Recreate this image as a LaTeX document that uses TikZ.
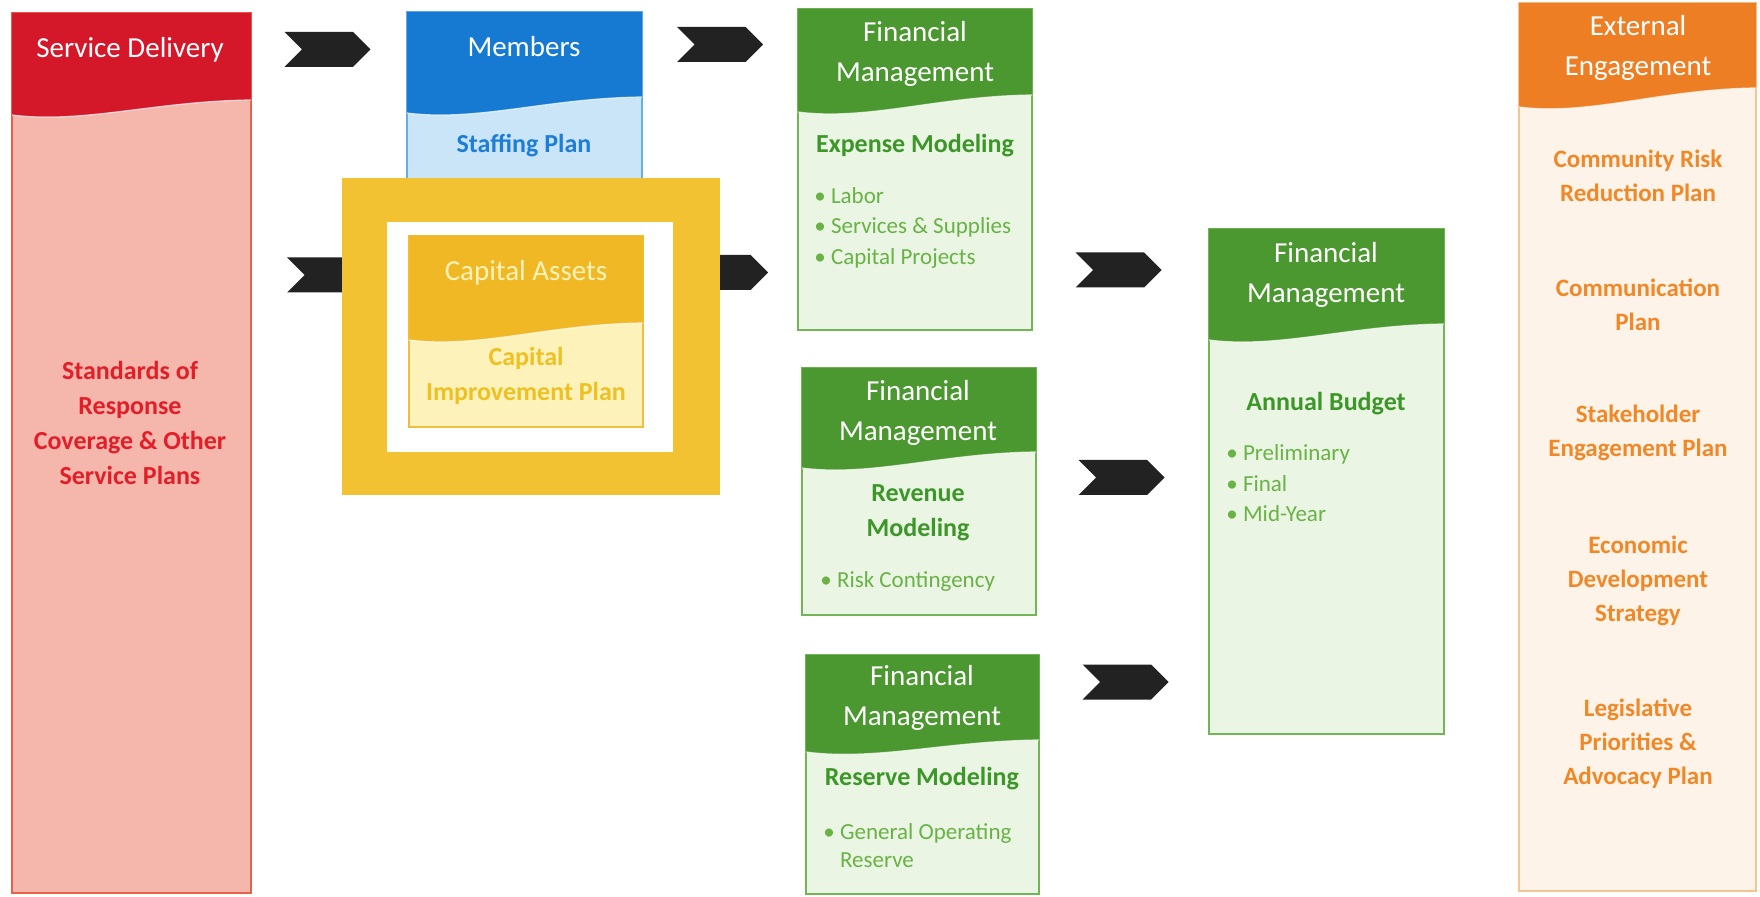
\documentclass[tikz,border=0pt]{standalone}
\usepackage{fontspec}
\setmainfont{Carlito}
\usetikzlibrary{shapes.symbols}
\definecolor{redhead}{RGB}{212,24,42}
\definecolor{redbody}{RGB}{245,182,172}
\definecolor{redline}{RGB}{232,96,76}
\definecolor{redtext}{RGB}{226,30,40}
\definecolor{bluhead}{RGB}{22,122,210}
\definecolor{blubody}{RGB}{202,229,248}
\definecolor{bluline}{RGB}{100,175,230}
\definecolor{blutext}{RGB}{30,125,215}
\definecolor{yelframe}{RGB}{242,194,50}
\definecolor{yelhead}{RGB}{240,184,36}
\definecolor{yelbody}{RGB}{253,243,186}
\definecolor{yelline}{RGB}{238,190,60}
\definecolor{yeltext}{RGB}{238,192,34}
\definecolor{grnhead}{RGB}{76,152,48}
\definecolor{grnbody}{RGB}{234,245,228}
\definecolor{grnline}{RGB}{115,180,85}
\definecolor{grntext}{RGB}{60,150,40}
\definecolor{grnbul}{RGB}{105,178,70}
\definecolor{orghead}{RGB}{238,126,36}
\definecolor{orgbody}{RGB}{253,243,232}
\definecolor{orgline}{RGB}{245,198,145}
\definecolor{orgtext}{RGB}{240,136,40}
\definecolor{chevcol}{RGB}{34,34,34}
\tikzset{
  wb/.style={rectangle, inner sep=0pt, outer sep=0pt, line width=0.8pt},
  chev/.style={shape=signal, signal to=east, signal from=west, signal pointer angle=90,
    fill=chevcol, inner sep=0pt, outer sep=0pt, minimum width=43pt, minimum height=17.5pt},
  hdr/.style={text=white, align=center, font=\fontsize{14.5}{20}\selectfont, inner sep=0pt},
  ttl/.style={align=center, font=\bfseries\fontsize{13}{17.5}\selectfont, inner sep=0pt},
  bul/.style={anchor=base west, text=grnbul, font=\fontsize{11.5}{15}\selectfont, inner sep=0pt},
  ext/.style={ttl, text=orgtext, font=\bfseries\fontsize{12.5}{17}\selectfont},
}
\newcommand{\wbox}[8]{%
  \node[wb, draw=#8line, fill=#8body, minimum width={(#4-#2)*0.5pt}, minimum height={(#5-#3)*0.5pt}]
     (#1) at ({(#2+#4)/2},{(#3+#5)/2}) {};
  \fill[#8head] (#1.north west) -- (#1.north east) -- (#4,#7)
     .. controls ({#4-0.4*(#4-#2)},{#7+1}) and ({#2+0.3*(#4-#2)},{#6+9}) .. (#2,#6) -- cycle;
  \draw[white, line width=0.6pt, opacity=0.7] (#4,#7)
     .. controls ({#4-0.4*(#4-#2)},{#7+1}) and ({#2+0.3*(#4-#2)},{#6+9}) .. (#2,#6);
}
\begin{document}
\begin{tikzpicture}[x=0.5pt,y=-0.5pt]
\useasboundingbox (0,0) rectangle (1760,897);
\fill[white] (0,0) rectangle (1760,897);

% chevrons behind the capital frame
\node[chev] (c2) at (330,275) {};
\node[chev] (c4) at (725,272.5) {};

% Service delivery
\wbox{sd}{12}{13}{251}{893}{115}{100}{red}
\node[hdr] (sdh) at (130,50) {Service Delivery};
\node[ttl, text=redtext] (sdt) at (130,423) {Standards of\\Response\\Coverage \& Other\\Service Plans};

% Members
\wbox{mem}{407}{12}{642}{190}{113}{97}{blu}
\node[hdr] (memh) at (524,47) {Members};
\node[ttl, text=blutext] (memt) at (524,146) {Staffing Plan};

% Capital frame
\node[wb, fill=yelframe, minimum width=189pt, minimum height=158.5pt] (capframe) at (531,336.5) {};
\node[wb, fill=white, minimum width=143pt, minimum height=115pt] (capwhite) at (530,337) {};
\wbox{cap}{409}{236}{643}{427}{340}{323}{yel}
\node[hdr, text=yelbody] (caph) at (526,273) {Capital Assets};
\node[ttl, text=yeltext] (capt) at (526,376) {Capital\\Improvement Plan};

% other chevrons
\node[chev] (c1) at (327.5,49.5) {};
\node[chev] (c3) at (720,44.5) {};
\node[chev] (c5) at (1118.5,270) {};
\node[chev] (c6) at (1121.5,477.5) {};
\node[chev] (c7) at (1125.5,682) {};

% Financial management 1
\wbox{fm1}{798}{9}{1032}{330}{112}{95}{grn}
\node[hdr] (fm1h) at (915,54) {Financial\\Management};
\node[ttl, text=grntext] (fm1t) at (915,146) {Expense Modeling};
\node[bul] (fm1a) at (814,204) {• Labor};
\node[bul] (fm1b) at (814,234) {• Services \& Supplies};
\node[bul] (fm1c) at (814,265) {• Capital Projects};

% Financial management 2
\wbox{fm2}{802}{368}{1036}{615}{468}{452}{grn}
\node[hdr] (fm2h) at (918,413) {Financial\\Management};
\node[ttl, text=grntext] (fm2t) at (918,513) {Revenue\\Modeling};
\node[bul] (fm2a) at (820,587) {• Risk Contingency};

% Financial management 3
\wbox{fm3}{806}{655}{1039}{894}{752}{740}{grn}
\node[hdr] (fm3h) at (922,698) {Financial\\Management};
\node[ttl, text=grntext] (fm3t) at (922,779) {Reserve Modeling};
\node[bul, align=left, font=\fontsize{11.5}{14}\selectfont] (fm3a) at (823,867) {• General Operating\\\phantom{• }Reserve};

% Financial management 4
\wbox{fm4}{1209}{229}{1444}{734}{340}{324}{grn}
\node[hdr] (fm4h) at (1326,275) {Financial\\Management};
\node[ttl, text=grntext] (fm4t) at (1326,404) {Annual Budget};
\node[bul] (fm4a) at (1226,461) {• Preliminary};
\node[bul] (fm4b) at (1226,492) {• Final};
\node[bul] (fm4c) at (1226,522) {• Mid-Year};

% External engagement
\wbox{ext}{1519}{3}{1756}{891}{107}{88}{org}
\node[hdr] (exth) at (1638,48) {External\\Engagement};
\node[ext] (ex1) at (1638,176) {Community Risk\\Reduction Plan};
\node[ext] (ex2) at (1638,305) {Communication\\Plan};
\node[ext] (ex3) at (1638,433) {Stakeholder\\Engagement Plan};
\node[ext] (ex4) at (1638,581) {Economic\\Development\\Strategy};
\node[ext] (ex5) at (1638,744) {Legislative\\Priorities \&\\Advocacy Plan};
\end{tikzpicture}
\end{document}
